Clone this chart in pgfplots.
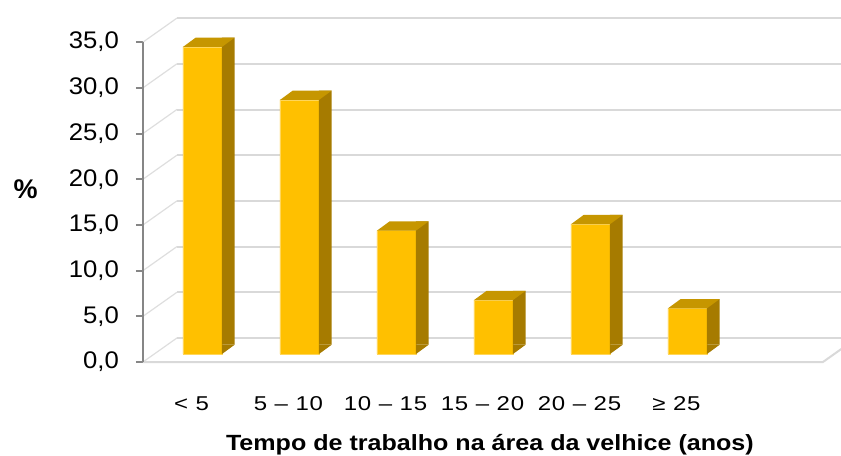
\documentclass[border=0pt]{standalone}
\usepackage{pgfplots}
\pgfplotsset{compat=1.18}
\usepackage{pgfplotstable}
\usepackage{fontspec}
\setmainfont{Liberation Sans}
\newfontfamily\ytfont{Liberation Sans}[FakeStretch=1.07]
\newfontfamily\xtfont{Liberation Sans}[FakeStretch=1.2,LetterSpace=4]
\newfontfamily\xlfont{Liberation Sans}[FakeStretch=1.14]

\definecolor{frontc}{RGB}{255,192,0}
\definecolor{topc}{RGB}{198,150,0}
\definecolor{sidec}{RGB}{166,123,0}
\definecolor{edgec}{RGB}{255,214,90}
\definecolor{gridc}{RGB}{217,217,217}
\definecolor{wallc}{RGB}{222,222,222}
\definecolor{axisc}{RGB}{134,134,134}

\pgfdeclareplotmark{bartop}{%
  \pgfpathmoveto{\pgfpoint{-19.5bp}{0bp}}%
  \pgfpathlineto{\pgfpoint{19.5bp}{0bp}}%
  \pgfpathlineto{\pgfpoint{32.2bp}{9.3bp}}%
  \pgfpathlineto{\pgfpoint{-6.8bp}{9.3bp}}%
  \pgfpathclose\pgfusepathqfill}
\pgfdeclareplotmark{sidebot}{%
  \pgfpathmoveto{\pgfpoint{19.5bp}{0bp}}%
  \pgfpathlineto{\pgfpoint{19.5bp}{9.3bp}}%
  \pgfpathlineto{\pgfpoint{32.2bp}{9.3bp}}%
  \pgfpathclose\pgfusepathqfill}

\pgfplotstableread{
x v
0.5 33.6
1.5 27.8
2.5 13.5
3.5 5.9
4.5 14.2
5.5 5.0
}\datatable

\begin{document}
\begin{tikzpicture}
\path[use as bounding box] (-143bp,-94bp) rectangle (698bp,362bp);
\begin{axis}[
  at={(0,0)}, anchor=south west,
  scale only axis,
  width=698bp, height=345bp,
  xmin=0, xmax=7.196, ymin=0, ymax=37.75,
  clip=false,
  axis line style={draw=none},
  ytick={0,5,...,35},
  ytick pos=left,
  xtick pos=bottom,
  xtick={0.5,1.5,2.5,3.5,4.5,5.5},
  xticklabels={{< 5},{5 – 10},{10 – 15},{15 – 20},{20 – 25},{≥ 25}},
  x tick style={draw=none},
  y tick style={draw=axisc, line width=2bp},
  major tick length=7bp,
  tick align=outside,
  ymajorgrids=true,
  major grid style={draw=gridc, line width=2bp, xshift=34bp, yshift=24bp},
  /pgf/number format/.cd, fixed, fixed zerofill, precision=1, use comma, assume math mode=true,
  /pgfplots/.cd,
  yticklabel style={font=\ytfont\fontsize{24bp}{28bp}\selectfont, anchor=east, inner sep=0pt, xshift=-17bp},
  xticklabel style={font=\xtfont\fontsize{20bp}{24bp}\selectfont, anchor=base, inner sep=0pt, yshift=-41bp},
  ylabel={\%},
  ylabel style={rotate=-90, anchor=center, font=\bfseries\fontsize{27bp}{30bp}\selectfont, at={(axis description cs:-0.168,0.501)}},
  xlabel={Tempo de trabalho na área da velhice (anos)},
  xlabel style={anchor=base, font=\xlfont\bfseries\fontsize{22bp}{26bp}\selectfont, at={(axis description cs:0.497,-0.257)}},
]
% left side wall lines
\addplot[wallc, line width=1.2bp, unbounded coords=jump] table {
x y
0 0
0.35 2.63
nan nan
0 5
0.35 7.63
nan nan
0 10
0.35 12.63
nan nan
0 15
0.35 17.63
nan nan
0 20
0.35 22.63
nan nan
0 25
0.35 27.63
nan nan
0 30
0.35 32.63
nan nan
0 35
0.35 37.63
};
% floor front edge
\addplot[gridc, line width=2bp] coordinates {(0,0) (7.01,0) (7.36,2.63)};
% axis line
\addplot[axisc, line width=2bp] coordinates {(0,0) (0,35)};
% bar front faces
\addplot[ybar, bar width=39bp, bar shift=11bp, yshift=8bp, fill=frontc, draw=edgec, line width=0.8bp] table[x=x,y=v]{\datatable};
% bar side faces
\addplot[ybar, bar width=12.7bp, bar shift=36.85bp, yshift=17.3bp, fill=sidec, draw=none] table[x=x,y=v]{\datatable};
% bottom triangle of side faces
\addplot[only marks, mark=sidebot, color=sidec, xshift=11bp, yshift=8bp] table[x=x,y expr=0]{\datatable};
% top faces
\addplot[only marks, mark=bartop, color=topc, xshift=11bp, yshift=8bp] table[x=x,y=v]{\datatable};
\end{axis}
\end{tikzpicture}
\end{document}
